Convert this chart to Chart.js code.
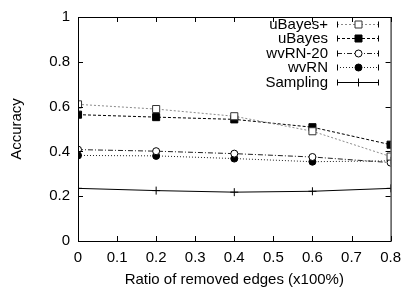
<!DOCTYPE html>
<html>
<head>
<meta charset="utf-8">
<script src="https://cdn.jsdelivr.net/npm/chart.js@4"></script>
<style>
  html, body { margin: 0; padding: 0; background: #fff; }
  #wrap { width: 409px; height: 292px; }
</style>
</head>
<body>
<div id="wrap"><canvas id="myChart" width="409" height="292"></canvas></div>
<script>
let ctx = document.getElementById("myChart").getContext("2d");

// data
let ratios = [0, 0.2, 0.4, 0.6, 0.8];
let uBayesPlus = [0.61, 0.589, 0.557, 0.49, 0.377];
let uBayes = [0.564, 0.553, 0.543, 0.508, 0.43];
let wvRN20 = [0.408, 0.401, 0.39, 0.375, 0.35];
let wvRN = [0.382, 0.38, 0.368, 0.354, 0.358];
let sampling = [0.235, 0.225, 0.218, 0.222, 0.235];
let xTicks = [0, 0.1, 0.2, 0.3, 0.4, 0.5, 0.6, 0.7, 0.8];
let yTicks = [0, 0.2, 0.4, 0.6, 0.8, 1];

let font = { family: "'Liberation Sans', Arial, sans-serif", size: 15 };
let textColor = "#000";

let toPoints = (arr) => arr.map((v, i) => ({ x: ratios[i], y: v }));

// gnuplot-like frame with inward ticks on all four sides
let frameTicks = {
  id: "frameTicks",
  afterDraw(chart) {
    let { ctx, chartArea: a, scales } = chart;
    ctx.save();
    ctx.strokeStyle = "#000";
    ctx.lineWidth = 1;
    ctx.strokeRect(a.left + 0.5, a.top + 0.5, a.right - a.left, a.bottom - a.top);
    ctx.beginPath();
    xTicks.forEach((t) => {
      let px = Math.round(scales.x.getPixelForValue(t)) + 0.5;
      ctx.moveTo(px, a.bottom);
      ctx.lineTo(px, a.bottom - 5);
      ctx.moveTo(px, a.top);
      ctx.lineTo(px, a.top + 5);
    });
    yTicks.forEach((t) => {
      let py = Math.round(scales.y.getPixelForValue(t)) + 0.5;
      ctx.moveTo(a.left, py);
      ctx.lineTo(a.left + 5, py);
      ctx.moveTo(a.right, py);
      ctx.lineTo(a.right - 5, py);
    });
    ctx.stroke();
    ctx.restore();
  },
};

// legend: label right-aligned, line sample with marker to the right
let keyLegend = {
  id: "keyLegend",
  afterDraw(chart) {
    let { ctx } = chart;
    let textRight = 328;
    let x0 = 337;
    let x1 = 378;
    let y0 = 23.5;
    let step = 14.6;
    ctx.save();
    ctx.font = `${font.size}px ${font.family}`;
    ctx.textAlign = "right";
    ctx.textBaseline = "middle";
    chart.data.datasets.forEach((ds, i) => {
      let y = Math.round(y0 + i * step) + 0.5;
      ctx.fillStyle = textColor;
      ctx.fillText(ds.label, textRight, y);
      ctx.strokeStyle = ds.borderColor;
      ctx.lineWidth = ds.borderWidth;
      ctx.setLineDash(ds.borderDash || []);
      ctx.beginPath();
      ctx.moveTo(x0, y);
      ctx.lineTo(x1, y);
      ctx.stroke();
      ctx.setLineDash([]);
      ctx.strokeStyle = "#000";
      ctx.lineWidth = 1;
      ctx.beginPath();
      ctx.moveTo(x0 + 0.5, y - 3);
      ctx.lineTo(x0 + 0.5, y + 3);
      ctx.moveTo(x1 + 0.5, y - 3);
      ctx.lineTo(x1 + 0.5, y + 3);
      ctx.stroke();
      let mx = Math.round((x0 + x1) / 2) + 0.5;
      ctx.fillStyle = ds.pointBackgroundColor;
      ctx.strokeStyle = ds.pointBorderColor;
      ctx.beginPath();
      if (ds.pointStyle === "rect") {
        ctx.rect(mx - 3.5, y - 3.5, 7, 7);
        ctx.fill();
        ctx.stroke();
      } else if (ds.pointStyle === "circle") {
        ctx.arc(mx, y, 3.5, 0, Math.PI * 2);
        ctx.fill();
        ctx.stroke();
      } else {
        ctx.moveTo(mx - 4, y);
        ctx.lineTo(mx + 4, y);
        ctx.moveTo(mx, y - 4);
        ctx.lineTo(mx, y + 4);
        ctx.stroke();
      }
    });
    ctx.restore();
  },
};

let myChart = new Chart(ctx, {
  type: "line",
  data: {
    datasets: [
      {
        label: "uBayes+",
        data: toPoints(uBayesPlus),
        borderColor: "#8a8a8a",
        borderWidth: 1,
        borderDash: [2, 2],
        pointStyle: "rect",
        pointRadius: 5,
        pointBackgroundColor: "#fff",
        pointBorderColor: "#333",
        pointBorderWidth: 1,
      },
      {
        label: "uBayes",
        data: toPoints(uBayes),
        borderColor: "#000",
        borderWidth: 1,
        borderDash: [3, 2],
        pointStyle: "rect",
        pointRadius: 5,
        pointBackgroundColor: "#000",
        pointBorderColor: "#000",
        pointBorderWidth: 1,
      },
      {
        label: "wvRN-20",
        data: toPoints(wvRN20),
        borderColor: "#222",
        borderWidth: 1,
        borderDash: [5, 2, 1, 2],
        pointStyle: "circle",
        pointRadius: 3.5,
        pointBackgroundColor: "#fff",
        pointBorderColor: "#000",
        pointBorderWidth: 1,
      },
      {
        label: "wvRN",
        data: toPoints(wvRN),
        borderColor: "#222",
        borderWidth: 1,
        borderDash: [1, 2],
        pointStyle: "circle",
        pointRadius: 3.5,
        pointBackgroundColor: "#000",
        pointBorderColor: "#000",
        pointBorderWidth: 1,
      },
      {
        label: "Sampling",
        data: toPoints(sampling),
        borderColor: "#000",
        borderWidth: 1,
        pointStyle: "cross",
        pointRadius: 4,
        pointBackgroundColor: "#000",
        pointBorderColor: "#000",
        pointBorderWidth: 1,
      },
    ],
  },
  options: {
    responsive: false,
    animation: false,
    layout: { padding: { top: 10, right: 13, left: 0, bottom: 0 } },
    plugins: {
      legend: { display: false },
      tooltip: { enabled: false },
    },
    scales: {
      x: {
        type: "linear",
        min: 0,
        max: 0.8,
        afterBuildTicks: (scale) => {
          scale.ticks = xTicks.map((v) => ({ value: v }));
        },
        afterFit: (scale) => {
          scale.height = 51;
        },
        grid: { display: false, drawTicks: false },
        border: { display: false },
        ticks: {
          color: textColor,
          font: font,
          padding: 8,
          maxRotation: 0,
          callback: (v) => String(v),
        },
        title: {
          display: true,
          text: "Ratio of removed edges (x100%)",
          color: textColor,
          font: font,
          padding: { top: 4, bottom: 3 },
        },
      },
      y: {
        min: 0,
        max: 1,
        afterBuildTicks: (scale) => {
          scale.ticks = yTicks.map((v) => ({ value: v }));
        },
        afterFit: (scale) => {
          scale.width = 78;
        },
        grid: { display: false, drawTicks: false },
        border: { display: false },
        ticks: {
          color: textColor,
          font: font,
          padding: 8,
          callback: (v) => String(v),
        },
        title: {
          display: true,
          text: "Accuracy",
          color: textColor,
          font: font,
          padding: { top: 8, bottom: 12 },
        },
      },
    },
  },
  plugins: [frameTicks, keyLegend],
});
</script>
</body>
</html>
